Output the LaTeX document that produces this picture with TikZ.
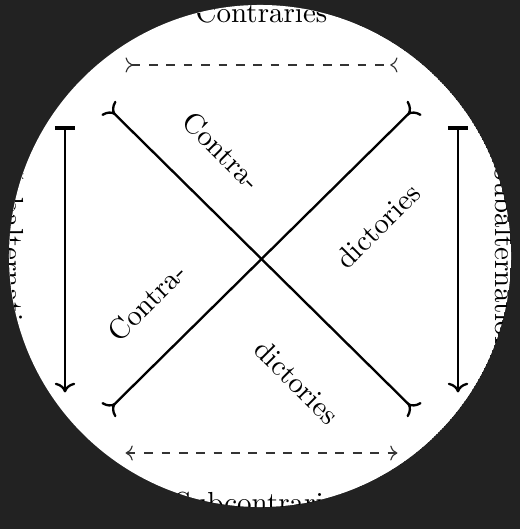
\documentclass[tikz,border=0pt]{standalone}
\usetikzlibrary{arrows.meta}
\definecolor{bgdark}{RGB}{34,34,34}
\begin{document}
\begin{tikzpicture}[x=0.345pt,y=-0.345pt,
  corner/.style={circle,minimum size=41.4pt,inner sep=0pt},
  rel/.style={thin,dashed,black!80},
  contra/.style={thick,>-<},
  subalt/.style={thick,{Bar[width=7pt,line width=1.6pt]}->},
  lbl/.style={inner sep=0pt}]
\useasboundingbox (0,0) rectangle (520,529);
\fill[bgdark] (0,0) rectangle (520,529);
\begin{scope}
\clip (260,256) circle[radius=86.6pt];
\fill[white] (260,256) circle[radius=86.6pt];
\node[corner] (A) at (65,65) {};
\node[corner] (E) at (458,65) {};
\node[corner] (I) at (65,453) {};
\node[corner] (O) at (458,453) {};
\draw[rel,>-<] (A) -- (E);
\draw[rel,<->] (I) -- (O);
\draw[contra] (A) -- (O);
\draw[contra] (E) -- (I);
\draw[subalt] (A) -- (I);
\draw[subalt] (E) -- (O);
\node[lbl,anchor=base] (ctr) at (261.5,23) {Contraries};
\node[lbl,anchor=base] (sub) at (261.5,512) {Subcontraries};
\node[lbl,rotate=-90,anchor=north] (sl) at (25,259) {Subalternation};
\node[lbl,rotate=-90,anchor=south] (sr) at (494,259) {Subalternation};
\node[lbl,rotate=-45] (c1) at (222,151) {Contra-};
\node[lbl,rotate=45] (d1) at (378,226) {dictories};
\node[lbl,rotate=45] (c2) at (147,302) {Contra-};
\node[lbl,rotate=-45] (d2) at (297,382) {dictories};
\end{scope}
\end{tikzpicture}
\end{document}
